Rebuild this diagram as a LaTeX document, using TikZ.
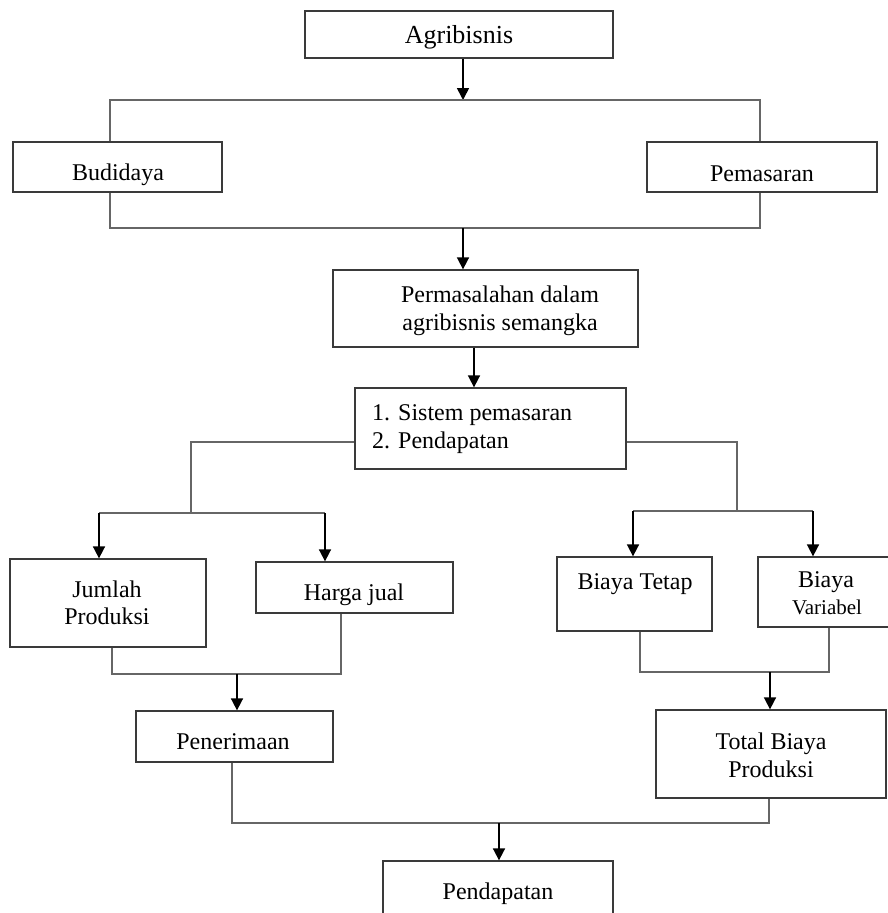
\documentclass[tikz,border=0pt]{standalone}
\usepackage{fontspec}
\setmainfont{Liberation Serif}
\usetikzlibrary{arrows.meta}
\definecolor{boxc}{HTML}{3A3A3A}
\definecolor{linec}{HTML}{666666}
\begin{document}
\begin{tikzpicture}[x=1pt,y=-1pt,
  box/.style={draw=boxc, line width=1.3pt, inner sep=0pt, fill=none},
  lbl/.style={inner sep=0pt, anchor=base, font=\fontsize{24}{28}\selectfont},
  conn/.style={draw=linec, line width=1.5pt, line join=miter},
  arr/.style={draw=black, line width=1.7pt, -{Triangle[length=12pt,width=12pt]}}]
\fill[white] (0,0) rectangle (888,913);
\useasboundingbox (0,0) rectangle (888,913);

% boxes
\node[box, minimum width=308pt, minimum height=47pt] (agri) at (459,34.5) {};
\node[box, minimum width=209pt, minimum height=50pt] (bud) at (117.5,167) {};
\node[box, minimum width=230pt, minimum height=50pt] (pem) at (762,167) {};
\node[box, minimum width=305pt, minimum height=77pt] (perm) at (485.5,308.5) {};
\node[box, minimum width=271pt, minimum height=81pt] (sis) at (490.5,428.5) {};
\node[box, minimum width=196pt, minimum height=88pt] (jum) at (108,603) {};
\node[box, minimum width=197pt, minimum height=51pt] (har) at (354.5,587.5) {};
\node[box, minimum width=155pt, minimum height=74pt] (btp) at (634.5,594) {};
\node[box, minimum width=134pt, minimum height=70pt] (bvr) at (825,592) {};
\node[box, minimum width=197pt, minimum height=51pt] (pen) at (234.5,736.5) {};
\node[box, minimum width=230pt, minimum height=88pt] (tot) at (771,754) {};
\node[box, minimum width=230pt, minimum height=64pt] (pdt) at (498,893) {};

% labels
\node[lbl, font=\fontsize{26}{30}\selectfont] (tagri) at (459,43) {Agribisnis};
\node[lbl] (tbud) at (118,180) {Budidaya};
\node[lbl] (tpem) at (762,181) {Pemasaran};
\node[lbl] (tperm1) at (500,302) {Permasalahan dalam};
\node[lbl] (tperm2) at (500,330) {agribisnis semangka};
\node[lbl, anchor=base west] (tsis1) at (372,420) {1. Sistem pemasaran};
\node[lbl, anchor=base west] (tsis2) at (372,448) {2. Pendapatan};
\node[lbl] (tjum1) at (107,597) {Jumlah};
\node[lbl] (tjum2) at (107,624) {Produksi};
\node[lbl] (thar) at (354,600) {Harga jual};
\node[lbl] (tbtp) at (635,589) {Biaya Tetap};
\node[lbl] (tbvr1) at (826,587) {Biaya};
\node[lbl, font=\fontsize{21}{25}\selectfont] (tbvr2) at (827,614) {Variabel};
\node[lbl] (tpen) at (233,749) {Penerimaan};
\node[lbl] (ttot1) at (771,749) {Total Biaya};
\node[lbl] (ttot2) at (771,777) {Produksi};
\node[lbl] (tpdt) at (498,899) {Pendapatan};

% junction coordinates
\coordinate (a1) at (463,100);
\coordinate (tl) at (110,100);
\coordinate (tr) at (760,100);
\coordinate (bl) at (110,228);
\coordinate (br) at (760,228);
\coordinate (a2) at (463,228);
\coordinate (a3) at (474,0);
\coordinate (sl) at (191,442);
\coordinate (sl2) at (191,513);
\coordinate (ll) at (99,513);
\coordinate (lr) at (325,513);
\coordinate (sr) at (737,442);
\coordinate (sr2) at (737,511);
\coordinate (rl) at (633,511);
\coordinate (rr) at (813,511);
\coordinate (ml1) at (112,674);
\coordinate (ml2) at (341,674);
\coordinate (ma) at (237,674);
\coordinate (mr1) at (640,672);
\coordinate (mr2) at (829,672);
\coordinate (mra) at (770,672);
\coordinate (fl) at (232,823);
\coordinate (fr) at (769,823);
\coordinate (fa) at (499,823);

% connectors
\draw[arr] (agri.south -| a1) -- (a1);
\draw[conn] (bud.north -| tl) -- (tl) -- (tr) -- (pem.north -| tr);
\draw[conn] (bud.south -| bl) -- (bl) -- (br) -- (pem.south -| br);
\draw[arr] (a2) -- (perm.north -| a2);
\draw[arr] (perm.south -| a3) -- (sis.north -| a3);

\draw[conn] (sis.west |- sl) -- (sl) -- (sl2);
\draw[conn] (ll) -- (lr);
\draw[arr] (ll) -- (jum.north -| ll);
\draw[arr] (lr) -- (har.north -| lr);

\draw[conn] (sis.east |- sr) -- (sr) -- (sr2);
\draw[conn] (rl) -- (rr);
\draw[arr] (rl) -- (btp.north -| rl);
\draw[arr] (rr) -- (bvr.north -| rr);

\draw[conn] (jum.south -| ml1) -- (ml1) -- (ml2) -- (har.south -| ml2);
\draw[arr] (ma) -- (pen.north -| ma);

\draw[conn] (btp.south -| mr1) -- (mr1) -- (mr2) -- (bvr.south -| mr2);
\draw[arr] (mra) -- (tot.north -| mra);

\draw[conn] (pen.south -| fl) -- (fl) -- (fr) -- (tot.south -| fr);
\draw[arr] (fa) -- (pdt.north -| fa);
\end{tikzpicture}
\end{document}
